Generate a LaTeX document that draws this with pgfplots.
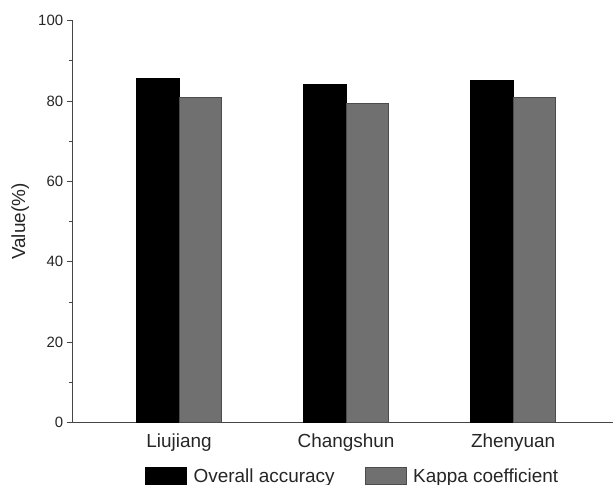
\documentclass[border=0pt]{standalone}
\usepackage{fontspec}
\setmainfont{Liberation Sans}
\usepackage{pgfplots}
\pgfplotsset{compat=1.18}
\definecolor{bargray}{RGB}{112,112,112}
\definecolor{axgray}{RGB}{70,70,70}
\pgfplotsset{mybarleg/.style={legend image code/.code={\draw[##1] (0bp,-8.25bp) rectangle (41bp,8.25bp); \path (46bp,0bp);}}}
\begin{document}
\begin{tikzpicture}
\begin{axis}[
  scale only axis, width=540.3bp, height=402.2bp,
  xmin=-0.637, xmax=2.598, ymin=0, ymax=100,
  axis lines*=left,
  axis line style={axgray, line width=0.8bp},
  ybar=0pt, bar width=42.5bp,
  xtick={0,1,2}, xticklabels={Liujiang,Changshun,Zhenyuan},
  major x tick style={draw=none},
  ytick={0,20,...,100}, minor y tick num=1,
  tick align=outside, major tick length=6bp, minor tick length=4bp,
  every tick/.style={axgray, line width=0.8bp},
  /pgf/number format/assume math mode=true,
  yticklabel style={font=\fontsize{15}{18}\selectfont, text=black!85},
  xticklabel style={font=\fontsize{19}{22}\selectfont, text=black!85, yshift=-1.5bp},
  ylabel={Value(\%)},
  every axis y label/.style={at={(axis description cs:-0.0805,0.5)}, rotate=90, anchor=south, inner sep=0pt,
    font=\fontsize{19}{22}\selectfont, text=black!85},
  legend columns=2,
  legend style={at={(axis description cs:0.518,-0.1325)}, anchor=center, draw=none,
    font=\fontsize{19}{22}\selectfont, text=black!85,
    /tikz/every even column/.append style={column sep=28bp}},
]
\addplot[fill=black, draw=black, line width=0.6bp, mybarleg] coordinates {(0,85.7) (1,84.2) (2,85.1)};
\addplot[fill=bargray, draw=black!70, line width=0.6bp, mybarleg] coordinates {(0,80.8) (1,79.4) (2,80.8)};
\legend{Overall accuracy, Kappa coefficient}
\path (rel axis cs:0,0) coordinate (bl);
\end{axis}
\pgfresetboundingbox
\path (bl) ++(-72.7bp,-62.3bp) rectangle ++(613bp,485bp);
\end{tikzpicture}
\end{document}
